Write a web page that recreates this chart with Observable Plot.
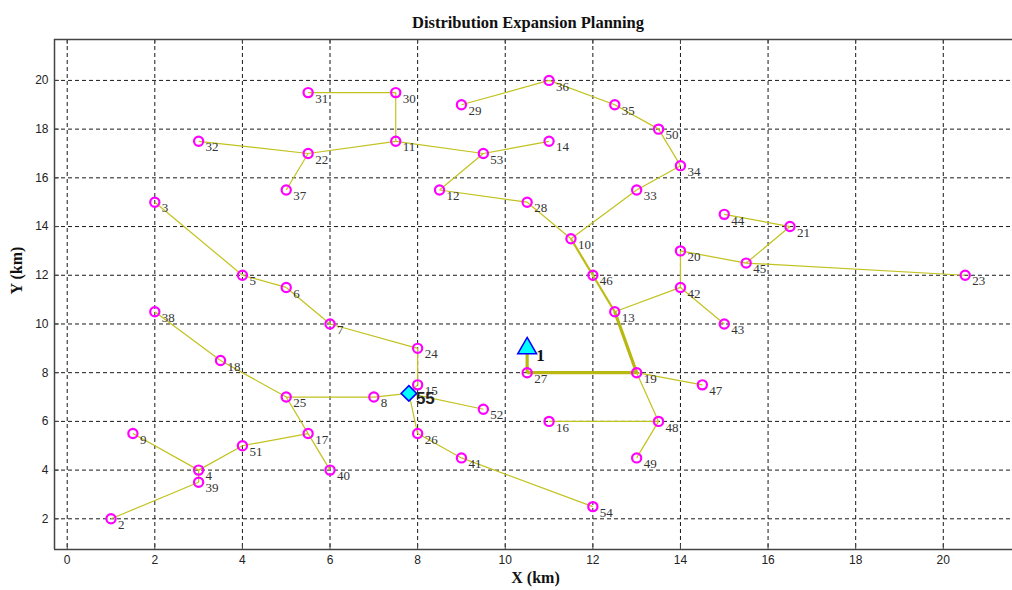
<!DOCTYPE html>
<html>
<head>
<meta charset="utf-8">
<script src="https://cdn.jsdelivr.net/npm/d3@7"></script>
<script src="https://cdn.jsdelivr.net/npm/@observablehq/plot@0.6"></script>
<style>
  html, body { margin: 0; padding: 0; background: #fff; }
  body { width: 1012px; height: 590px; overflow: hidden; }
  #title {
    height: 30px; box-sizing: border-box; padding-top: 13px;
    line-height: 18px; margin-left: 54px; width: 958px; padding-right: 10px;
    text-align: center; font: bold 16.5px "Liberation Serif", serif; color: #111;
  }
  #chart svg { display: block; }
</style>
</head>
<body>
<div id="title">Distribution Expansion Planning</div>
<div id="chart"></div>
<script>
// ---- data ----
const nodeId = [1,2,3,4,5,6,7,8,9,10,11,12,13,14,15,16,17,18,19,20,21,22,23,24,25,26,27,28,29,30,31,32,33,34,35,36,37,38,39,40,41,42,43,44,45,46,47,48,49,50,51,52,53,54,55];
const nodeX = [10.5,1,2,3,4,5,6,7,1.5,11.5, 7.5,8.5,12.5,11,8,11,5.5,3.5,13,14, 16.5,5.5,20.5,8,5,8,10.5,10.5,9,7.5, 5.5,3,13,14,12.5,11,5,2,3,6, 9,14,15,15,15.5,12,14.5,13.5,13,13.5, 4,9.5,9.5,12,7.8];
const nodeY = [9,2,15,4,12,11.5,10,7,5.5,13.5, 17.5,15.5,10.5,17.5,7.5,6,5.5,8.5,8,13, 14,17,12,9,7,5.5,8,15,19,19.5, 19.5,17.5,15.5,16.5,19,20,15.5,10.5,3.5,4, 4.5,11.5,10,14.5,12.5,12,7.5,6,4.5,18, 5,6.5,17,2.5,7.15];

const substationIds = [1];
const generatorIds = [55];

const trunkEdges = [[1,27],[27,19],[19,13]];
const secondaryEdges = [[13,46],[46,10]];
const branchEdges = [[10,28],[28,12],[12,53],[53,11],[53,14],[11,30],[30,31],[11,22],[22,32],[22,37],
  [10,33],[33,34],[34,50],[50,35],[35,36],[36,29],[13,42],[42,20],[42,43],[20,45],
  [45,21],[21,44],[45,23],[19,47],[19,48],[48,16],[48,49],[55,15],[15,24],[24,7],
  [7,6],[6,5],[5,3],[55,8],[8,25],[25,18],[18,38],[25,17],[17,51],[51,4],
  [4,9],[4,39],[39,2],[17,40],[55,52],[55,26],[26,41],[41,54]];

const xTicks = [0,2,4,6,8,10,12,14,16,18,20];
const yTicks = [2,4,6,8,10,12,14,16,18,20];
const xDomain = [-0.29, 21.58];
const yDomain = [0.74, 21.68];

// ---- build ----
const nodes = nodeId.map((id, i) => ({id, x: nodeX[i], y: nodeY[i]}));
const byId = new Map(nodes.map(n => [n.id, n]));
const toLinks = pairs => pairs.map(([a, b]) => ({a: byId.get(a), b: byId.get(b)}));
const loads = nodes.filter(n => !substationIds.includes(n.id) && !generatorIds.includes(n.id));
const subs = nodes.filter(n => substationIds.includes(n.id));
const gens = nodes.filter(n => generatorIds.includes(n.id));

const W = 1012, H = 560, mT = 9, mB = 41, mL = 54, mR = 0;
const innerW = W - mL - mR, innerH = H - mT - mB;
const lineColor = "#c2c21e";
const linkOpts = {x1: d => d.a.x, y1: d => d.a.y, x2: d => d.b.x, y2: d => d.b.y, stroke: lineColor};
const gridOpts = {stroke: "#1a1a1a", strokeOpacity: 1, strokeWidth: 1, strokeDasharray: "4,3"};
const axisFont = {fontSize: 12, fontFamily: "Liberation Sans, Arial, sans-serif", fill: "#222"};

const chart = Plot.plot({
  width: W, height: H,
  marginTop: mT, marginBottom: mB, marginLeft: mL, marginRight: mR,
  x: {domain: xDomain},
  y: {domain: yDomain},
  style: {background: "transparent", overflow: "visible"},
  marks: [
    Plot.gridX(xTicks, gridOpts),
    Plot.gridY(yTicks, gridOpts),
    // inward ticks
    Plot.tickX(xTicks, {x: d => d, insetTop: innerH - 5, stroke: "#444"}),
    Plot.tickX(xTicks, {x: d => d, insetBottom: innerH - 5, stroke: "#444"}),
    Plot.tickY(yTicks, {y: d => d, insetRight: innerW - 5, stroke: "#444"}),
    // frame (top, bottom, left)
    Plot.ruleY([yDomain[0], yDomain[1]], {stroke: "#444", strokeWidth: 1.5}),
    Plot.ruleX([xDomain[0]], {stroke: "#444", strokeWidth: 1.5}),
    Plot.axisX(xTicks, {tickSize: 0, tickPadding: 6, label: null, ...axisFont}),
    Plot.axisY(yTicks, {tickSize: 0, tickPadding: 6, label: null, ...axisFont}),
    // feeders
    Plot.link(toLinks(branchEdges), {...linkOpts, strokeWidth: 1.2}),
    Plot.link(toLinks(secondaryEdges), {...linkOpts, strokeWidth: 2.2, stroke: "#bcbc14"}),
    Plot.link(toLinks(trunkEdges), {...linkOpts, strokeWidth: 3.2, stroke: "#b8b810"}),
    // nodes
    Plot.dot(loads, {x: "x", y: "y", r: 4.6, stroke: "#ff00ff", strokeWidth: 2.2, fill: "none"}),
    Plot.text(loads, {x: "x", y: "y", text: d => String(d.id), dx: 7, dy: 6, textAnchor: "start",
      fontSize: 13, fontFamily: "Liberation Serif, serif", fill: "#333"}),
    Plot.dot(subs, {x: "x", y: "y", symbol: "triangle2", r: 9, fill: "#00ffff", stroke: "#0000ff", strokeWidth: 1.5}),
    Plot.dot(gens, {x: "x", y: "y", symbol: "diamond2", r: 7, fill: "#00ffff", stroke: "#0000ff", strokeWidth: 1.5}),
    Plot.text(subs, {x: "x", y: "y", text: d => String(d.id), dx: 9, dy: 7, textAnchor: "start",
      fontSize: 17, fontWeight: "bold", fontFamily: "Liberation Serif, serif", fill: "#111"}),
    Plot.text(gens, {x: "x", y: "y", text: d => String(d.id), dx: 7, dy: 5, textAnchor: "start",
      fontSize: 17, fontWeight: "bold", fontFamily: "Liberation Sans, sans-serif", fill: "#222"}),
    // axis titles
    Plot.text(["X (km)"], {frameAnchor: "bottom", dy: 33, dx: 2, text: d => d,
      fontSize: 16, fontWeight: "bold", fontFamily: "Liberation Serif, serif", fill: "#111"}),
    Plot.text(["Y (km)"], {frameAnchor: "left", dx: -38, rotate: -90, text: d => d,
      fontSize: 16, fontWeight: "bold", fontFamily: "Liberation Serif, serif", fill: "#111"})
  ]
});
document.getElementById("chart").appendChild(chart);
</script>
</body>
</html>
